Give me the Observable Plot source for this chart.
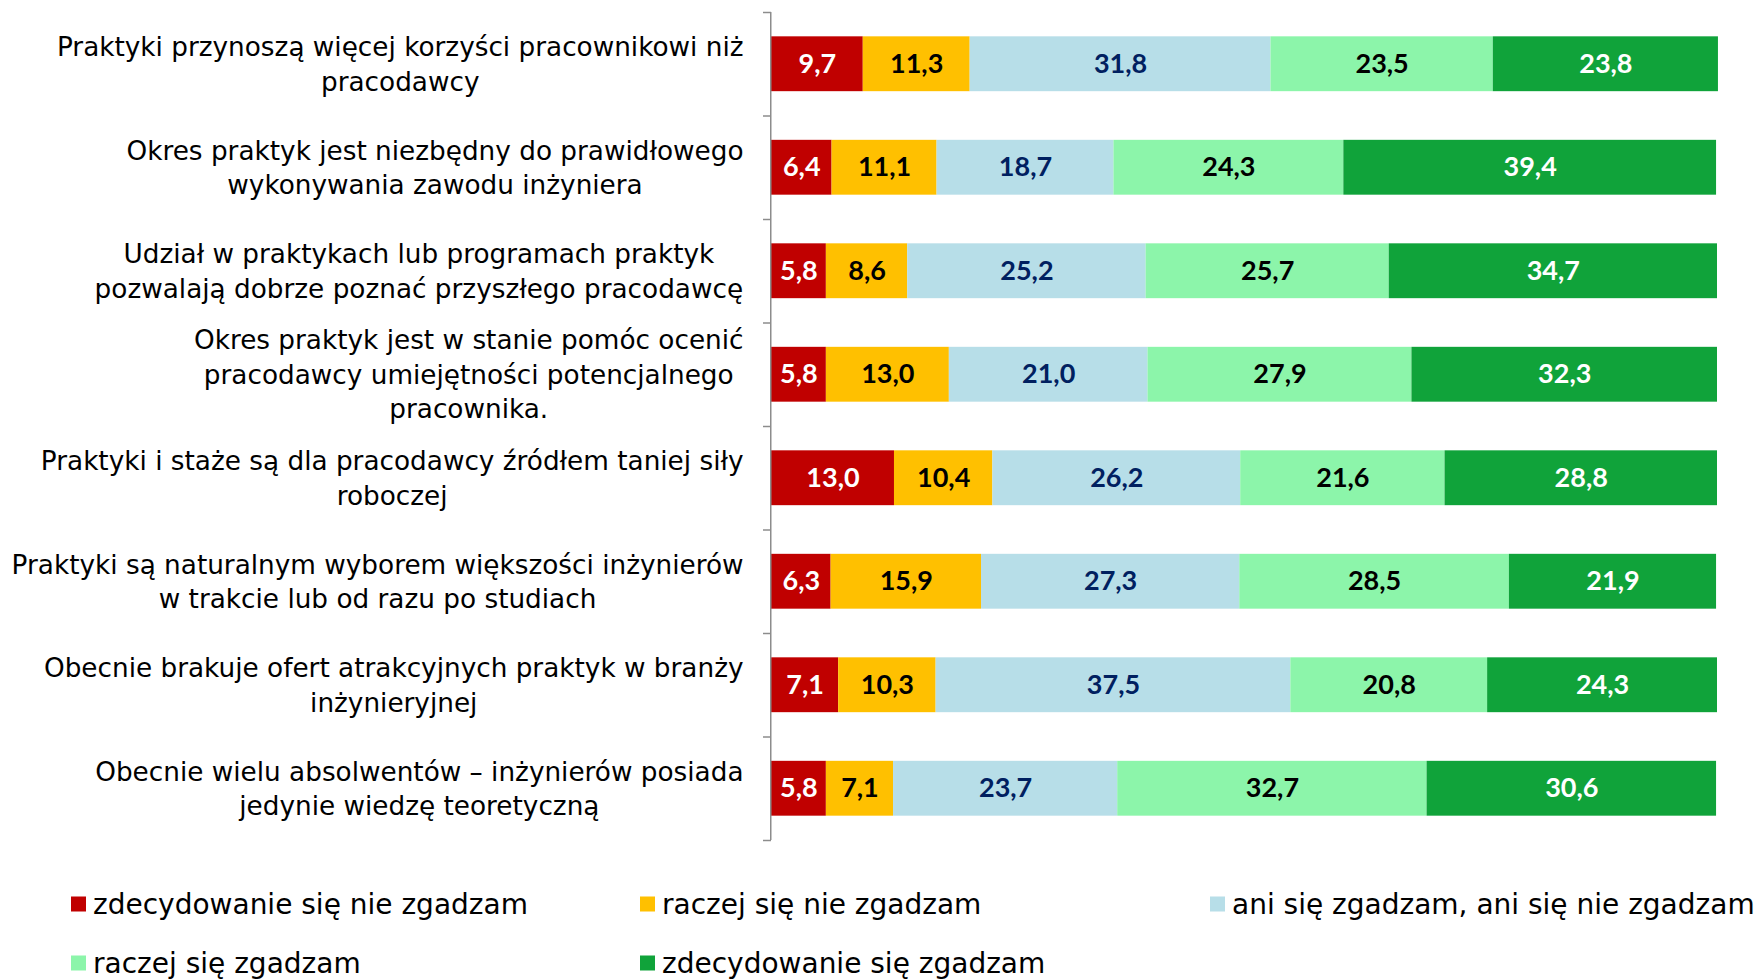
<!DOCTYPE html>
<html>
<head>
<meta charset="utf-8">
<script src="https://cdn.jsdelivr.net/npm/d3@7"></script>
<script src="https://cdn.jsdelivr.net/npm/@observablehq/plot@0.6"></script>
<style>
  html, body { margin: 0; padding: 0; background: #ffffff; }
  #wrap { width: 1758px; height: 979px; position: relative; overflow: hidden; }
  #legend { position: relative; width: 1758px; height: 119px; font-family: "DejaVu Sans", sans-serif; font-size: 28px; color: #000; }
  .item { position: absolute; display: flex; align-items: center; white-space: nowrap; transform: translateY(-50%); }
  .sw { width: 15px; height: 15px; margin-right: 7px; flex: none; }
</style>
</head>
<body>
<div id="wrap">
  <div id="chart"></div>
  <div id="legend"></div>
</div>
<script>
// ---- data ----
const categories = [
  "Praktyki przynoszą więcej korzyści pracownikowi niż\npracodawcy",
  "Okres praktyk jest niezbędny do prawidłowego\nwykonywania zawodu inżyniera",
  "Udział w praktykach lub programach praktyk\npozwalają dobrze poznać przyszłego pracodawcę",
  "Okres praktyk jest w stanie pomóc ocenić\npracodawcy umiejętności potencjalnego\npracownika.",
  "Praktyki i staże są dla pracodawcy źródłem taniej siły\nroboczej",
  "Praktyki są naturalnym wyborem większości inżynierów\nw trakcie lub od razu po studiach",
  "Obecnie brakuje ofert atrakcyjnych praktyk w branży\ninżynieryjnej",
  "Obecnie wielu absolwentów – inżynierów posiada\njedynie wiedzę teoretyczną"
];
const seriesNames = [
  "zdecydowanie się nie zgadzam",
  "raczej się nie zgadzam",
  "ani się zgadzam, ani się nie zgadzam",
  "raczej się zgadzam",
  "zdecydowanie się zgadzam"
];
const stronglyDisagree = [9.7, 6.4, 5.8, 5.8, 13.0, 6.3, 7.1, 5.8];
const ratherDisagree   = [11.3, 11.1, 8.6, 13.0, 10.4, 15.9, 10.3, 7.1];
const neutral          = [31.8, 18.7, 25.2, 21.0, 26.2, 27.3, 37.5, 23.7];
const ratherAgree      = [23.5, 24.3, 25.7, 27.9, 21.6, 28.5, 20.8, 32.7];
const stronglyAgree    = [23.8, 39.4, 34.7, 32.3, 28.8, 21.9, 24.3, 30.6];
const seriesValues = [stronglyDisagree, ratherDisagree, neutral, ratherAgree, stronglyAgree];

const barColors  = ["#C00000", "#FFC000", "#B7DEE8", "#8CF5AA", "#10A33A"];
const textColors = ["#FFFFFF", "#000000", "#002060", "#000000", "#FFFFFF"];

const data = [];
categories.forEach((cat, i) => {
  seriesValues.forEach((vals, s) => {
    data.push({cat, s, series: seriesNames[s], value: vals[i]});
  });
});

// ---- layout ----
const W = 1758, H = 860;
const mTop = 12, mBottom = H - 840, mLeft = 771, mRight = W - 1717;
const step = (H - mTop - mBottom) / categories.length;
const tickLen = 8 * 100 / (W - mLeft - mRight);
const fmt = v => v.toFixed(1).replace(".", ",");

const chart = Plot.plot({
  width: W,
  height: H,
  marginTop: mTop,
  marginBottom: mBottom,
  marginLeft: mLeft,
  marginRight: mRight,
  x: {domain: [0, 100], axis: null},
  y: {domain: categories, axis: null, paddingInner: 0.47, paddingOuter: 0.235, round: false},
  color: {type: "identity"},
  style: {background: "#ffffff", overflow: "visible"},
  marks: [
    Plot.barX(data, Plot.stackX({x: "value", y: "cat", fill: d => barColors[d.s]})),
    Plot.text(data, Plot.stackX({
      x: "value", y: "cat",
      text: d => fmt(d.value),
      fill: d => textColors[d.s],
      fontFamily: "Lato, sans-serif",
      fontWeight: "bold",
      fontSize: 27
    })),
    Plot.ruleX([0], {stroke: "#8C8C8C", strokeWidth: 1.5, dx: -0.75}),
    Plot.ruleY(categories, {y: d => d, dy: -step / 2, x1: -tickLen, x2: 0, stroke: "#8C8C8C", strokeWidth: 1.5}),
    Plot.ruleY(categories.slice(-1), {y: d => d, dy: step / 2, x1: -tickLen, x2: 0, stroke: "#8C8C8C", strokeWidth: 1.5}),
    Plot.text(categories, {
      y: d => d,
      text: d => d,
      frameAnchor: "left",
      textAnchor: "end",
      dx: -28,
      dy: -2,
      fontFamily: "DejaVu Sans, sans-serif",
      fontSize: 26.3,
      lineHeight: 1.31,
      fill: "#000000"
    })
  ]
});
document.getElementById("chart").appendChild(chart);

// centre each multi-line category label on its own block (right edge fixed)
const flatCats = new Set(categories.map(c => c.replace(/\n/g, "")));
function centerLabels() {
  chart.querySelectorAll("text").forEach(t => {
    if (!flatCats.has(t.textContent)) return;
    if (t.getAttribute("data-orig") === null) t.setAttribute("data-orig", t.getAttribute("transform") || "");
    const orig = t.getAttribute("data-orig");
    t.setAttribute("text-anchor", "end");
    t.setAttribute("transform", orig);
    const w = t.getBBox().width;
    t.setAttribute("text-anchor", "middle");
    t.setAttribute("transform", `${orig} translate(${-w / 2},0)`);
  });
}
centerLabels();
if (document.fonts && document.fonts.ready) document.fonts.ready.then(centerLabels);

// ---- legend ----
const legend = document.getElementById("legend");
const legendPos = [[71, 44], [640, 44], [1210, 44], [71, 103], [640, 103]];
seriesNames.forEach((name, s) => {
  const it = document.createElement("div");
  it.className = "item";
  it.style.left = legendPos[s][0] + "px";
  it.style.top = legendPos[s][1] + "px";
  const sw = document.createElement("span");
  sw.className = "sw";
  sw.style.background = barColors[s];
  const tx = document.createElement("span");
  tx.textContent = name;
  it.appendChild(sw);
  it.appendChild(tx);
  legend.appendChild(it);
});
</script>
</body>
</html>
